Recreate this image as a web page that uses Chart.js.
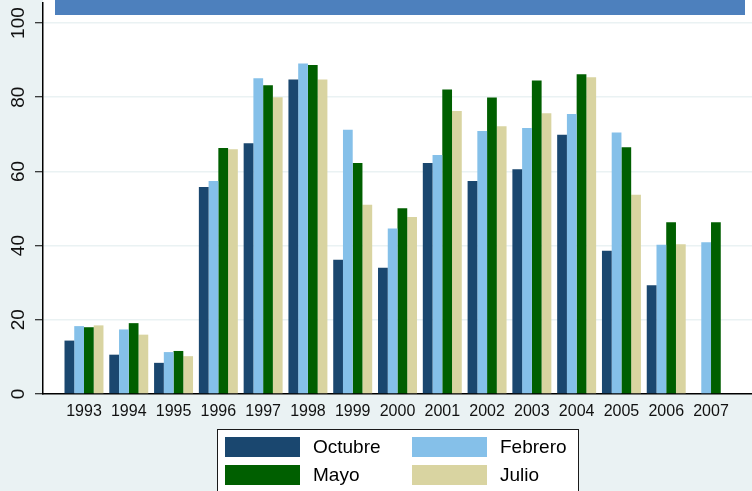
<!DOCTYPE html>
<html>
<head>
<meta charset="utf-8">
<script src="https://cdn.jsdelivr.net/npm/chart.js@4"></script>
<style>
  html, body { margin: 0; padding: 0; background: #eaf2f3; }
  canvas { display: block; }
</style>
</head>
<body>
<canvas id="chart" width="752" height="491"></canvas>
<script>
// Datos
const years = [1993, 1994, 1995, 1996, 1997, 1998, 1999, 2000, 2001, 2002, 2003, 2004, 2005, 2006, 2007];
const octubre = [14.4, 10.6, 8.4, 55.8, 67.6, 84.8, 36.2, 34.0, 62.3, 57.4, 60.6, 69.9, 38.6, 29.3, null];
const febrero = [18.3, 17.4, 11.3, 57.4, 85.1, 89.1, 71.2, 44.6, 64.4, 70.9, 71.7, 75.5, 70.5, 40.2, 40.9];
const mayo    = [18.0, 19.1, 11.6, 66.3, 83.2, 88.7, 62.3, 50.1, 82.1, 79.9, 84.5, 86.2, 66.5, 46.3, 46.3];
const julio   = [18.5, 16.0, 10.2, 66.0, 80.0, 84.8, 51.0, 47.7, 76.3, 72.2, 75.7, 85.4, 53.7, 40.4, null];
const yTicks = [0, 20, 40, 60, 80, 100];

const FONT = '"Liberation Sans", Arial, sans-serif';

function toPoints(values) {
    return years.map((yr, i) => ({ x: yr, y: values[i] }));
}

// fondo, región del gráfico y barra del título
const backgroundPlugin = {
    id: 'background',
    beforeDraw(chart) {
        const { ctx, chartArea } = chart;
        ctx.save();
        ctx.fillStyle = '#eaf2f3';
        ctx.fillRect(0, 0, chart.width, chart.height);
        ctx.fillStyle = '#ffffff';
        ctx.fillRect(chartArea.left, 0, chart.width - chartArea.left, chartArea.bottom);
        ctx.fillStyle = '#4d80bd';
        ctx.fillRect(55, 0, 690, 15);
        ctx.restore();
    }
};

// leyenda en dos columnas, como en Stata
const legendPlugin = {
    id: 'gridLegend',
    afterDraw(chart) {
        const ctx = chart.ctx;
        ctx.save();
        ctx.fillStyle = '#ffffff';
        ctx.fillRect(217, 429, 361, 70);
        ctx.strokeStyle = '#1a1a1a';
        ctx.lineWidth = 1;
        ctx.strokeRect(217.5, 429.5, 361, 70);
        ctx.font = '19px ' + FONT;
        ctx.textBaseline = 'middle';
        chart.data.datasets.forEach((ds, i) => {
            const col = i % 2;
            const row = Math.floor(i / 2);
            const x = col ? 412 : 225;
            const y = row ? 465 : 437;
            ctx.fillStyle = ds.backgroundColor;
            ctx.fillRect(x, y, 75, 20);
            ctx.fillStyle = '#000000';
            ctx.fillText(ds.label, x + 88, y + 11);
        });
        ctx.restore();
    }
};

const barStyle = { categoryPercentage: 0.87, barPercentage: 1.0, borderWidth: 0 };

new Chart(document.getElementById('chart'), {
    type: 'bar',
    data: {
        datasets: [
            { label: 'Octubre', data: toPoints(octubre), backgroundColor: '#1a476f', ...barStyle },
            { label: 'Febrero', data: toPoints(febrero), backgroundColor: '#85c0e9', ...barStyle },
            { label: 'Mayo', data: toPoints(mayo), backgroundColor: '#005f00', ...barStyle },
            { label: 'Julio', data: toPoints(julio), backgroundColor: '#d9d4a1', ...barStyle }
        ]
    },
    options: {
        responsive: false,
        animation: false,
        devicePixelRatio: 1,
        layout: { padding: { top: 3, right: 0, bottom: 0, left: 0 } },
        plugins: {
            legend: { display: false },
            tooltip: { enabled: false },
            title: { display: false }
        },
        scales: {
            x: {
                type: 'linear',
                offset: false,
                min: 1992.085,
                max: 2007.915,
                afterBuildTicks: (axis) => { axis.ticks = years.map(v => ({ value: v })); },
                afterFit: (axis) => {
                    axis.height = 97;
                    axis.paddingLeft = 0;
                    axis.paddingRight = 0;
                },
                grid: { display: false, drawTicks: false, offset: false },
                border: { display: true, color: '#000000', width: 1.5 },
                ticks: {
                    padding: 8,
                    color: '#111111',
                    font: { family: FONT, size: 16 },
                    maxRotation: 0,
                    autoSkip: false,
                    callback: (v) => String(v)
                }
            },
            y: {
                min: 0,
                max: 105.4,
                afterBuildTicks: (axis) => { axis.ticks = yTicks.map(v => ({ value: v })); },
                afterFit: (axis) => {
                    axis.width = 43;
                    axis.paddingTop = 0;
                    axis.paddingBottom = 0;
                },
                grid: {
                    color: '#eaf2f3',
                    lineWidth: 1.5,
                    tickColor: '#000000',
                    tickLength: 8,
                    tickWidth: 1
                },
                border: { display: true, color: '#000000', width: 1.5 },
                ticks: {
                    padding: 0,
                    minRotation: 90,
                    maxRotation: 90,
                    crossAlign: 'center',
                    color: '#111111',
                    font: { family: FONT, size: 19 }
                }
            }
        }
    },
    plugins: [backgroundPlugin, legendPlugin]
});
</script>
</body>
</html>
